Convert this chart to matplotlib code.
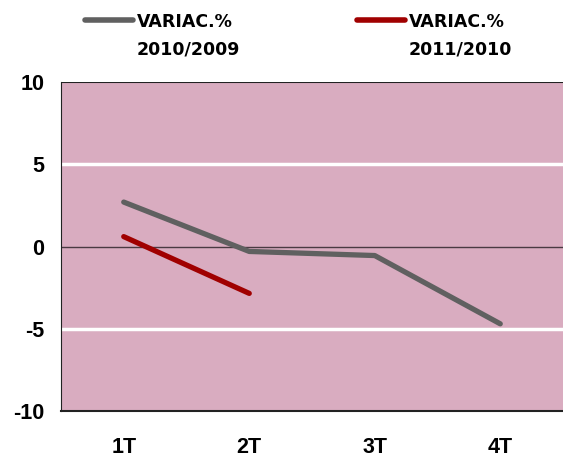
import matplotlib.pyplot as plt
from matplotlib.lines import Line2D
import numpy as np

quarters = ['1T', '2T', '3T', '4T']
var_2010_2009 = [2.7, -0.3, -0.55, -4.7]
var_2011_2010 = [0.6, -2.85]
series_names = [('VARIAC.%', '2010/2009'), ('VARIAC.%', '2011/2010')]
series_colors = ['#606060', '#a00000']
y_ticks = [-10, -5, 0, 5, 10]


def main():
    W, H = 563, 459
    fig = plt.figure(figsize=(W / 100, H / 100), dpi=100)
    ax = fig.add_axes([61 / W, 48 / H, 1 - 61 / W, 329 / H])
    ax.set_facecolor('#d9acc0')

    x = np.arange(len(quarters))
    ax.plot(x, var_2010_2009, color=series_colors[0], lw=3.8,
            solid_capstyle='round', zorder=3)
    ax.plot(x[:len(var_2011_2010)], var_2011_2010, color=series_colors[1],
            lw=3.8, solid_capstyle='round', zorder=3)

    ax.set_xlim(-0.5, 3.5)
    ax.set_ylim(-10, 10)
    ax.set_yticks(y_ticks)
    ax.set_yticklabels([str(v) for v in y_ticks])
    ax.set_xticks(x)
    ax.set_xticklabels(quarters)
    for y in (-5, 5):
        ax.axhline(y, color='white', lw=2.5, zorder=1)
    ax.axhline(0, color='#4a3a42', lw=1, zorder=2)

    for s in ('top', 'right'):
        ax.spines[s].set_visible(False)
    ax.axhline(10, color='#222222', lw=1.5, zorder=2)
    ax.spines['left'].set_color('#222222')
    ax.spines['bottom'].set_color('#222222')
    ax.spines['bottom'].set_linewidth(1.5)
    ax.tick_params(length=0)
    ax.tick_params(axis='y', pad=12)
    ax.tick_params(axis='x', pad=19)
    for t in ax.get_xticklabels() + ax.get_yticklabels():
        t.set_fontfamily('Liberation Sans')
        t.set_fontweight('bold')
        t.set_fontsize(15.5)

    # legend drawn by hand: handle level with first text line
    legend_x = [(85, 133, 137), (357, 405, 409)]
    for (x0, x1, xt), (l1, l2), c in zip(legend_x, series_names, series_colors):
        fig.add_artist(Line2D([x0 / W, x1 / W], [1 - 20 / H, 1 - 20 / H],
                              color=c, lw=4, solid_capstyle='round'))
        fig.text(xt / W, 1 - 22 / H, l1, fontsize=12.5, fontweight='bold',
                 va='center', ha='left')
        fig.text(xt / W, 1 - 50 / H, l2, fontsize=12.5, fontweight='bold',
                 va='center', ha='left')

    fig.savefig('out.png', dpi=100)


if __name__ == '__main__':
    main()
